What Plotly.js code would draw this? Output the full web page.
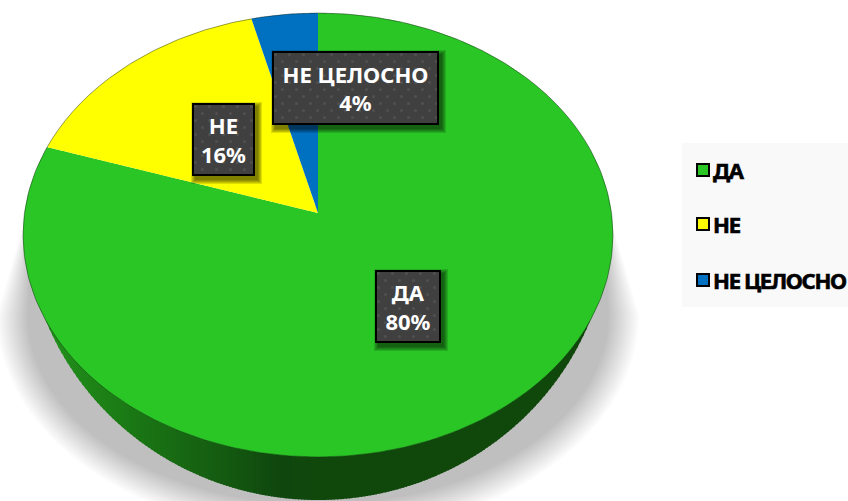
<!DOCTYPE html>
<html><head><meta charset="utf-8">
<script src="https://cdn.plot.ly/plotly-3.0.1.min.js"></script>
<style>html,body{margin:0;padding:0;background:#fff;overflow:hidden}#chart{width:848px;height:501px}</style>
</head><body><div id="chart"></div>
<script>
// Data
const categories = ['ДА', 'НЕ', 'НЕ ЦЕЛОСНО'];
const shares = [80, 16, 4];
const sliceColors = ['#2AC626', '#FFFF00', '#0070C0'];

// Layout of the tilted disc (pixels)
const apex = [318, 213];
const warp = {a: 293.5, b: 219.8, k: -0.0991};
const topEllipse = {cx: 318, cy: 235, rx: 295, ry: 222};
const lowEllipse = {cx: 318, cy: 215, rx: 293, ry: 285};
const boxes = [[375, 270, 440, 342], [192, 103, 254, 175], [272, 51, 438, 124]];
const W = 848, H = 501;
const px = x => x / W, py = y => 1 - y / H;

const shapes = [];
// legend panel
shapes.push({type:'rect', layer:'below', xref:'paper', yref:'paper', x0:px(682), x1:px(848), y0:py(143), y1:py(307), fillcolor:'#F9F9F9', line:{width:0}});
// soft shadow
function shadowPath(d) {
  const cx = 318, cy = 315, rx = 315 + d, ry = 214 + d;
  const pts = [];
  for (let t = 180; t >= 0; t -= 4) {
    const r = t * Math.PI / 180;
    pts.push(`L${px(cx + rx * Math.cos(r)).toFixed(5)},${py(cy + ry * Math.sin(r)).toFixed(5)}`);
  }
  return `M${px(24 - d / 3)},${py(230)}` + pts.join('') + `L${px(612 + d / 3)},${py(230)}Z`;
}
for (let i = 0; i < 16; i++) {
  shapes.push({type:'path', layer:'below', xref:'paper', yref:'paper', path:shadowPath(6 - i * 2), fillcolor:'rgba(0,0,0,0.0155)', line:{width:0}});
}
// side wall of the disc, as vertical strips
function sideColor(x) {
  const stops = [[23,[36,150,30]],[60,[32,140,26]],[130,[26,120,20]],[200,[22,98,18]],[280,[15,70,13]],[318,[16,72,12]],[613,[16,72,12]]];
  for (let i = 1; i < stops.length; i++) {
    if (x <= stops[i][0]) {
      const f = (x - stops[i-1][0]) / (stops[i][0] - stops[i-1][0]);
      const c = stops[i-1][1].map((v, j) => Math.round(v + f * (stops[i][1][j] - v)));
      return `rgb(${c})`;
    }
  }
  return 'rgb(16,72,12)';
}
const lowY = x => Math.max(240, lowEllipse.cy + lowEllipse.ry * Math.sqrt(Math.max(0, 1 - ((x - lowEllipse.cx) / lowEllipse.rx) ** 2)));
for (let x = 25; x < 611; x += 3) {
  const x2 = x + 4;
  shapes.push({type:'path', layer:'below', xref:'paper', yref:'paper',
    path:`M${px(x)},${py(240)}L${px(x)},${py(lowY(x))}L${px(x2)},${py(lowY(x2))}L${px(x2)},${py(240)}Z`,
    fillcolor:sideColor(x), line:{width:0}});
}
// thin rim on the disc face
shapes.push({type:'circle', layer:'above', xref:'paper', yref:'paper',
  x0:px(topEllipse.cx - topEllipse.rx), x1:px(topEllipse.cx + topEllipse.rx),
  y0:py(topEllipse.cy - topEllipse.ry), y1:py(topEllipse.cy + topEllipse.ry),
  line:{color:'rgba(20,40,20,0.45)', width:1}});
// label shadows
boxes.forEach(b => {
  for (let i = 0; i < 5; i++) {
    const e = 4 - i;
    shapes.push({type:'rect', layer:'above', xref:'paper', yref:'paper',
      x0:px(b[0] + 3 - e), x1:px(b[2] + 4 + e), y0:py(b[1] + 3 - e), y1:py(b[3] + 5 + e),
      fillcolor:'rgba(0,0,0,0.13)', line:{width:0}});
  }
});

const total = shares.reduce((a, b) => a + b, 0);
const annotations = categories.map((c, i) => {
  const b = boxes[i];
  return {
    xref:'paper', yref:'paper', xanchor:'center', yanchor:'middle',
    x:px((b[0] + b[2]) / 2), y:py((b[1] + b[3]) / 2),
    width:b[2] - b[0] - 3, height:b[3] - b[1] - 3,
    text:`${c}<br>${Math.round(shares[i] / total * 100)}%`,
    showarrow:false, align:'center', valign:'middle',
    bgcolor:'#404040', bordercolor:'#000000', borderwidth:2, borderpad:0,
    font:{family:'"Noto Sans", sans-serif', size:22, color:'#FFFFFF', weight:700}
  };
});

const trace = {
  type:'pie', labels:categories, values:shares, sort:false, direction:'clockwise', rotation:0,
  textinfo:'none', hoverinfo:'skip',
  marker:{colors:sliceColors, line:{width:0}},
  domain:{x:[0,1], y:[0,1]}
};
const layout = {
  width:W, height:H, margin:{l:0, r:0, t:0, b:0, pad:0},
  paper_bgcolor:'#FFFFFF', shapes, annotations,
  showlegend:true,
  legend:{x:1, y:1, xanchor:'right', yanchor:'top', bgcolor:'rgba(0,0,0,0)', borderwidth:0,
    traceorder:'normal', font:{family:'"Noto Sans", sans-serif', size:22, color:'#000000', weight:700}}
};

const gd = document.getElementById('chart');
Plotly.newPlot(gd, [trace], layout, {displayModeBar:false, staticPlot:true}).then(() => {
  const cd = gd.calcdata[0][0];
  const R = cd.r, cx = cd.cx, cy = cd.cy;
  // Perspective of the disc: warp each slice outline the library produced
  gd.querySelectorAll('.pielayer .slice path.surface').forEach(p => {
    const L = p.getTotalLength();
    const pts = [];
    for (let s = 0; s <= L; s += 1.2) {
      const q = p.getPointAtLength(s);
      const x = (q.x - cx) / R, y = (q.y - cy) / R, w = 1 + warp.k * y;
      pts.push((apex[0] + warp.a * x / w).toFixed(2) + ',' + (apex[1] + warp.b * y / w).toFixed(2));
    }
    p.setAttribute('d', 'M' + pts.join('L') + 'Z');
  });
  // Dotted texture of the label boxes
  const NS = 'http://www.w3.org/2000/svg';
  const svg = gd.querySelector('svg.main-svg');
  const defs = svg.querySelector('defs') || svg.insertBefore(document.createElementNS(NS, 'defs'), svg.firstChild);
  const pat = document.createElementNS(NS, 'pattern');
  pat.setAttribute('id', 'labeldots');
  pat.setAttribute('patternUnits', 'userSpaceOnUse');
  pat.setAttribute('width', 14); pat.setAttribute('height', 14);
  pat.innerHTML = '<rect width="14" height="14" fill="#404040"/><circle cx="3.5" cy="3.5" r="1.5" fill="#505050"/><circle cx="10.5" cy="10.5" r="1.5" fill="#505050"/>';
  defs.appendChild(pat);
  gd.querySelectorAll('.annotation .bg').forEach(r => { r.style.fill = 'url(#labeldots)'; });
  // Legend spacing and swatches
  const leg = gd.querySelector('.legend');
  const lm = leg.getCTM();
  leg.querySelectorAll('[clip-path]').forEach(n => n.removeAttribute('clip-path'));
  const rowY = [170, 224, 280];
  leg.querySelectorAll('.traces').forEach((t, i) => {
    t.setAttribute('transform', `translate(0,${rowY[i] - lm.f})`);
    const sw = t.querySelector('.legendpoints path');
    if (sw) {
      sw.setAttribute('d', 'M6,6V-6H-6V6Z');
      sw.setAttribute('transform', `translate(${703 - lm.e},0)`);
      sw.style.stroke = '#000'; sw.style.strokeWidth = '2px';
    }
    const tx = t.querySelector('text');
    tx.setAttribute('x', 713 - lm.e);
    tx.style.letterSpacing = '-1.3px';
    tx.style.stroke = '#000'; tx.style.strokeWidth = '0.6px';
    tx.querySelectorAll('tspan').forEach(n => n.setAttribute('x', 713 - lm.e));
  });
});
</script></body></html>
